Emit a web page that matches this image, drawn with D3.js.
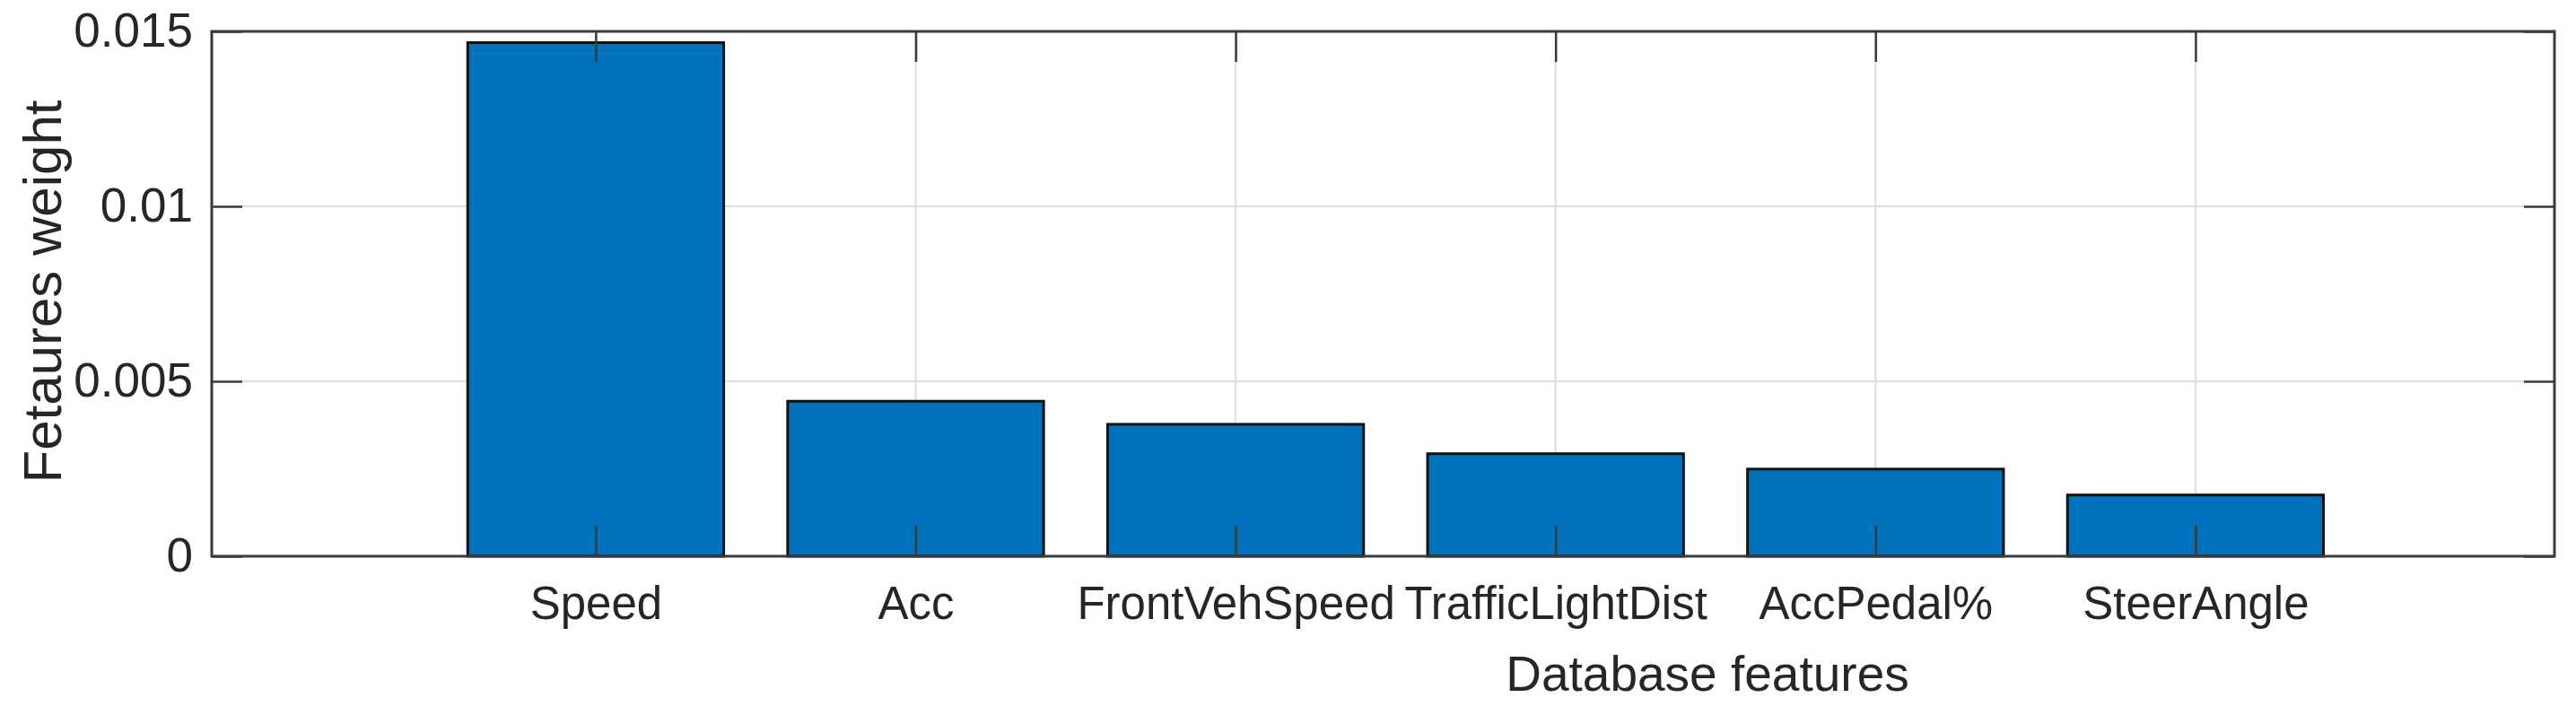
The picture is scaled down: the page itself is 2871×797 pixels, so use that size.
<!DOCTYPE html>
<html>
<head>
<meta charset="utf-8">
<script src="https://cdn.jsdelivr.net/npm/d3@7"></script>
<style>
  html, body { margin: 0; padding: 0; background: #ffffff; }
  svg { display: block; }
  text { font-family: "Liberation Sans", Arial, sans-serif; fill: #262626; }
</style>
</head>
<body>
<script>
// ---- data ----
const categories = ["Speed", "Acc", "FrontVehSpeed", "TrafficLightDist", "AccPedal%", "SteerAngle"];
const weights = [0.01468, 0.00443, 0.00377, 0.00293, 0.00249, 0.00175];
const yTicks = [0, 0.005, 0.01, 0.015];
const yTickLabels = ["0", "0.005", "0.01", "0.015"];
const xLimits = [-0.2, 7.122];
const yLimits = [0, 0.015];
const xLabel = "Database features";
const yLabel = "Fetaures weight";

// ---- layout ----
const W = 2871, H = 797;
const plot = { left: 236, right: 2847, top: 35, bottom: 620 };
const tickLen = 34;
const axisColor = "#3a3a3a";

const svg = d3.select("body").append("svg").attr("width", W).attr("height", H);

const x = d3.scaleLinear().domain(xLimits).range([plot.left, plot.right]);
const y = d3.scaleLinear().domain(yLimits).range([plot.bottom, plot.top]);
const positions = categories.map((c, i) => i + 1);
const barWidth = 0.8;

// grid
const grid = svg.append("g");
grid.selectAll("line.vg").data(positions).join("line")
  .attr("x1", d => x(d)).attr("x2", d => x(d))
  .attr("y1", plot.top).attr("y2", plot.bottom)
  .attr("stroke", "#dedede").attr("stroke-width", 2);
grid.selectAll("line.hg").data(yTicks.slice(1, -1)).join("line")
  .attr("x1", plot.left).attr("x2", plot.right)
  .attr("y1", d => y(d)).attr("y2", d => y(d))
  .attr("stroke", "#dedede").attr("stroke-width", 2);

// bars
svg.append("g").selectAll("rect").data(weights).join("rect")
  .attr("x", (d, i) => x(positions[i] - barWidth / 2))
  .attr("width", (d, i) => x(positions[i] + barWidth / 2) - x(positions[i] - barWidth / 2))
  .attr("y", d => y(d))
  .attr("height", d => y(0) - y(d))
  .attr("fill", "#0072BD")
  .attr("stroke", "#111111")
  .attr("stroke-width", 3);

// axes
function styleAxis(g) {
  g.select(".domain").remove();
  g.selectAll(".tick line").attr("stroke", axisColor).attr("stroke-width", 2.5);
}

const xAxisBottom = d3.axisBottom(x).tickValues(positions)
  .tickFormat((d, i) => categories[i]).tickSizeInner(-tickLen).tickSizeOuter(0).tickPadding(34);
const gxb = svg.append("g").attr("transform", `translate(0,${plot.bottom})`).call(xAxisBottom);
styleAxis(gxb);
gxb.selectAll(".tick text").attr("font-size", 51).attr("fill", "#262626");

const xAxisTop = d3.axisTop(x).tickValues(positions).tickFormat("").tickSizeInner(-tickLen).tickSizeOuter(0);
const gxt = svg.append("g").attr("transform", `translate(0,${plot.top})`).call(xAxisTop);
styleAxis(gxt);

const yAxisLeft = d3.axisLeft(y).tickValues(yTicks)
  .tickFormat((d, i) => yTickLabels[i]).tickSizeInner(-tickLen).tickSizeOuter(0).tickPadding(21);
const gyl = svg.append("g").attr("transform", `translate(${plot.left},0)`).call(yAxisLeft);
styleAxis(gyl);
gyl.selectAll(".tick text").attr("font-size", 53).attr("fill", "#262626");

const yAxisRight = d3.axisRight(y).tickValues(yTicks).tickFormat("").tickSizeInner(-tickLen).tickSizeOuter(0);
const gyr = svg.append("g").attr("transform", `translate(${plot.right},0)`).call(yAxisRight);
styleAxis(gyr);

// box
svg.append("rect")
  .attr("x", plot.left).attr("y", plot.top)
  .attr("width", plot.right - plot.left).attr("height", plot.bottom - plot.top)
  .attr("fill", "none").attr("stroke", axisColor).attr("stroke-width", 3);

// labels
svg.append("text")
  .attr("x", 1903).attr("y", 770)
  .attr("text-anchor", "middle").attr("font-size", 55)
  .text(xLabel);

svg.append("text")
  .attr("transform", `translate(68,325) rotate(-90)`)
  .attr("text-anchor", "middle").attr("font-size", 60)
  .text(yLabel);
</script>
</body>
</html>
